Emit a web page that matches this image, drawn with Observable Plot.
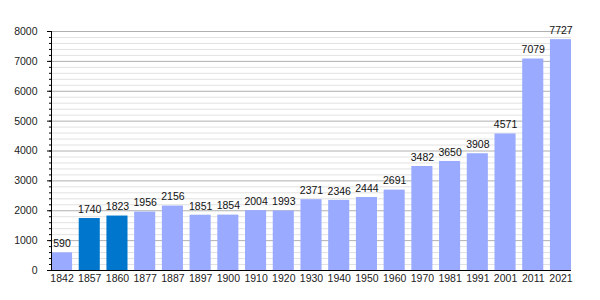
<!DOCTYPE html>
<html>
<head>
<meta charset="utf-8">
<script src="https://cdn.jsdelivr.net/npm/d3@7"></script>
<script src="https://cdn.jsdelivr.net/npm/@observablehq/plot@0.6"></script>
<style>
  html, body { margin: 0; padding: 0; background: #fff; }
  #chart svg { display: block; }
</style>
</head>
<body>
<div id="chart"></div>
<script>
const years = ["1842","1857","1860","1877","1887","1897","1900","1910","1920","1930","1940","1950","1960","1970","1981","1991","2001","2011","2021"];
const population = [590,1740,1823,1956,2156,1851,1854,2004,1993,2371,2346,2444,2691,3482,3650,3908,4571,7079,7727];
const highlighted = ["1857","1860"];
const yMajorTicks = [0,1000,2000,3000,4000,5000,6000,7000,8000];
const yMinorTicks = d3.range(0, 8001, 200);

const data = years.map((y, i) => ({year: y, value: population[i], hl: highlighted.includes(y)}));

const chart = Plot.plot({
  width: 600,
  height: 300,
  marginLeft: 51,
  marginRight: 29,
  marginTop: 31,
  marginBottom: 30,
  style: {fontFamily: "'Liberation Sans', Arial, sans-serif", fontSize: "10.5px", color: "#222", background: "#fff"},
  x: {type: "band", domain: years, paddingInner: 0.24, paddingOuter: 0, round: false, label: null},
  y: {domain: [0, 8000], label: null},
  marks: [
    Plot.ruleY(yMinorTicks.filter(v => v % 1000 !== 0), {stroke: "#e2e2e2", strokeWidth: 1}),
    Plot.ruleY(yMajorTicks, {stroke: "#b0b0b0", strokeWidth: 1}),
    Plot.barY(data, {x: "year", y: "value", fill: d => d.hl ? "#0077cc" : "#99aaff"}),
    Plot.text(data, {x: "year", y: "value", text: d => String(d.value), dy: -9, fill: "#111", fontSize: 10.5}),
    Plot.axisY({ticks: yMinorTicks, tickSize: 2, text: null, stroke: "#000"}),
    Plot.axisY({ticks: yMajorTicks, tickSize: 4, text: null, stroke: "#000"}),
    Plot.axisY({ticks: yMajorTicks, tickSize: 0, tickPadding: 14, tickFormat: d => String(d), fill: "#222", label: null}),
    Plot.axisX({tickSize: 0, tickPadding: 4, fill: "#222", label: null}),
    Plot.frame({anchor: "left", stroke: "#000"}),
    Plot.ruleY([0], {stroke: "#000", strokeWidth: 1.2})
  ]
});
document.getElementById("chart").appendChild(chart);
</script>
</body>
</html>
